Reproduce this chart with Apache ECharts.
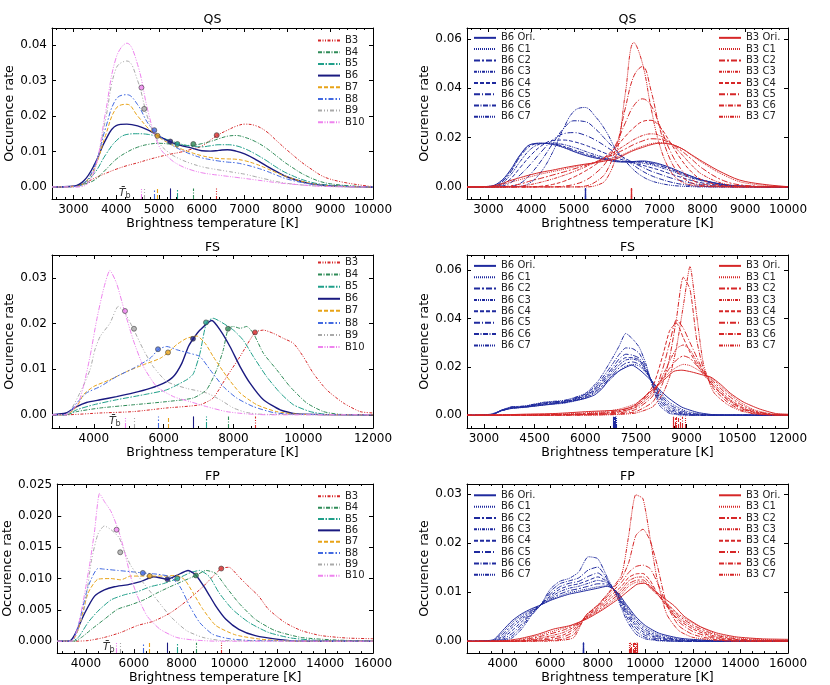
<!DOCTYPE html>
<html><head><meta charset="utf-8">
<script src="https://cdn.jsdelivr.net/npm/echarts@6/dist/echarts.min.js"></script>
<style>html,body{margin:0;padding:0;background:#fff}#c{width:830px;height:685px}</style>
</head><body><div id="c"></div>
<script>
// ===================== DATA =====================
const bands = ['B3','B4','B5','B6','B7','B8','B9','B10'];
const variantsB6 = ['B6 Ori.','B6 C1','B6 C2','B6 C3','B6 C4','B6 C5','B6 C6','B6 C7'];
const variantsB3 = ['B3 Ori.','B3 C1','B3 C2','B3 C3','B3 C4','B3 C5','B3 C6','B3 C7'];
const xName = 'Brightness temperature [K]';
const yName = 'Occurence rate';
const titles = ['QS','QS','FS','FS','FP','FP'];

// tick labels
const qsXTicks = [3000,4000,5000,6000,7000,8000,9000,10000];
const fsLXTicks = [4000,6000,8000,10000,12000];
const fsRXTicks = [3000,4500,6000,7500,9000,10500,12000];
const fpXTicks = [4000,6000,8000,10000,12000,14000,16000];
const qsLYTicks = [0,0.01,0.02,0.03,0.04];
const qsRYTicks = [0,0.02,0.04,0.06];
const fsLYTicks = [0,0.01,0.02,0.03];
const fsRYTicks = [0,0.02,0.04,0.06];
const fpLYTicks = [0,0.005,0.01,0.015,0.02,0.025];
const fpRYTicks = [0,0.01,0.02,0.03];

// ---- QS (shared temperature grid)
const qsX = [2500,3000,3250,3500,3750,4000,4250,4500,4750,5000,5250,5500,5750,6000,6200,6400,6600,6800,7000,7250,7500,7750,8000,8500,9000,10000];
const qsB3 = [0,0.0002,0.001,0.0025,0.0038,0.005,0.006,0.0068,0.0077,0.0085,0.0092,0.0098,0.0106,0.0115,0.0132,0.0148,0.016,0.0171,0.0177,0.0173,0.0157,0.013,0.0103,0.0055,0.0022,0.0001];
const qsB4 = [0,0.0001,0.0008,0.002,0.0048,0.0078,0.0098,0.0112,0.012,0.0123,0.0121,0.0118,0.0117,0.0122,0.0128,0.0136,0.0143,0.0145,0.014,0.0128,0.011,0.0087,0.0064,0.0028,0.0009,0];
const qsB5 = [0,0.0001,0.0012,0.004,0.009,0.013,0.0148,0.015,0.0148,0.0141,0.0131,0.0121,0.0115,0.0113,0.0116,0.0119,0.0119,0.0116,0.0108,0.0093,0.0075,0.0055,0.0038,0.0015,0.0005,0];
const qsB6 = [0,0.0002,0.0018,0.0065,0.0132,0.0173,0.0177,0.0172,0.016,0.0143,0.0128,0.0117,0.011,0.0102,0.0101,0.0103,0.0105,0.0101,0.0093,0.0078,0.006,0.0043,0.0028,0.001,0.0003,0];
const qsB7 = [0,0.0001,0.001,0.0055,0.0145,0.0222,0.0233,0.02,0.0165,0.014,0.0122,0.0108,0.0097,0.0088,0.0083,0.008,0.0079,0.0078,0.0074,0.0065,0.0053,0.004,0.0028,0.0011,0.0003,0];
const qsB8 = [0,0.0001,0.001,0.006,0.0165,0.0248,0.026,0.0232,0.0178,0.0145,0.0122,0.0105,0.0092,0.0082,0.0077,0.0073,0.007,0.0068,0.0063,0.0055,0.0045,0.0033,0.0022,0.0009,0.0003,0];
const qsB9 = [0,0,0.0005,0.005,0.019,0.0335,0.0355,0.030,0.019,0.0125,0.0095,0.0078,0.0066,0.0057,0.0052,0.0048,0.0044,0.004,0.0036,0.0029,0.0022,0.0015,0.001,0.0004,0.0001,0];
const qsB10 = [0,0,0.0003,0.005,0.021,0.0365,0.0405,0.0345,0.021,0.0115,0.008,0.006,0.0048,0.004,0.0036,0.0033,0.003,0.0027,0.0024,0.002,0.0016,0.0012,0.0009,0.0004,0.0001,0];
const qsTb = [6348,5802,5430,5265,4965,4890,4655,4590];
const qsTbY = [0.0146,0.0121,0.0121,0.0128,0.0144,0.016,0.022,0.028];
const qsBlueC1 = [0,0.0002,0.0015,0.006,0.013,0.0172,0.0177,0.0173,0.0162,0.0146,0.0131,0.012,0.0112,0.0104,0.0102,0.0103,0.0103,0.0098,0.009,0.0076,0.0058,0.0042,0.0028,0.001,0.0003,0];
const qsBlueC2 = [0,0.0001,0.0012,0.0055,0.0125,0.0168,0.0176,0.0175,0.0165,0.015,0.0136,0.0123,0.0114,0.0105,0.0102,0.0102,0.0101,0.0095,0.0086,0.0072,0.0055,0.004,0.0027,0.0009,0.0002,0];
const qsBlueC3 = [0,0.0001,0.0008,0.0045,0.0105,0.0155,0.0175,0.0178,0.0172,0.016,0.0145,0.013,0.0118,0.0108,0.0102,0.0099,0.0096,0.009,0.008,0.0066,0.005,0.0036,0.0024,0.0008,0.0002,0];
const qsBlueC4 = [0,0,0.0005,0.003,0.008,0.013,0.0168,0.0188,0.019,0.0183,0.017,0.0153,0.0135,0.0118,0.0106,0.0097,0.0088,0.0078,0.0068,0.0053,0.0039,0.0026,0.0016,0.0005,0.0001,0];
const qsBlueC5 = [0,0,0.0002,0.0015,0.005,0.0095,0.0145,0.019,0.0215,0.022,0.021,0.019,0.0163,0.0135,0.0115,0.0097,0.008,0.0064,0.0052,0.0037,0.0025,0.0015,0.0008,0.0002,0,0];
const qsBlueC6 = [0,0,0,0.0002,0.0015,0.0055,0.011,0.0175,0.0235,0.0268,0.0265,0.0235,0.019,0.0145,0.0113,0.0087,0.0064,0.0046,0.0033,0.002,0.0011,0.0005,0.0002,0,0,0];
const qsBlueC7 = [0,0,0,0,0.0002,0.002,0.0065,0.014,0.0235,0.0307,0.0322,0.0285,0.0225,0.0145,0.0105,0.0068,0.0042,0.0025,0.0015,0.0007,0.0003,0.0001,0,0,0,0];
const qsRedC1 = [0,0,0.0006,0.0018,0.003,0.0042,0.0053,0.0062,0.0071,0.0081,0.009,0.0099,0.011,0.0122,0.0136,0.0152,0.0165,0.0175,0.0179,0.0174,0.0157,0.0128,0.0098,0.0048,0.0016,0.0001];
const qsRedC2 = [0,0,0,0.0004,0.0012,0.0025,0.0036,0.0048,0.006,0.0073,0.0086,0.0101,0.0118,0.0137,0.0154,0.0172,0.0186,0.0195,0.0193,0.0178,0.0148,0.0112,0.0075,0.0025,0.0006,0];
const qsRedC3 = [0,0,0,0,0.0003,0.001,0.002,0.0032,0.0046,0.0062,0.008,0.01,0.0122,0.0148,0.017,0.0192,0.0208,0.0215,0.0208,0.0178,0.0135,0.0088,0.005,0.0013,0.0003,0];
const qsRedC4 = [0,0,0,0,0,0,0.0003,0.001,0.0022,0.004,0.0063,0.009,0.0125,0.0165,0.0205,0.024,0.0265,0.027,0.0245,0.018,0.0112,0.006,0.0028,0.0005,0.0001,0];
const qsRedC5 = [0,0,0,0,0,0,0,0,0.0003,0.001,0.0025,0.0055,0.01,0.018,0.026,0.033,0.0357,0.033,0.025,0.0145,0.0072,0.003,0.0012,0.0002,0,0];
const qsRedC6 = [0,0,0,0,0,0,0,0,0,0,0.0003,0.002,0.006,0.017,0.032,0.045,0.0488,0.039,0.024,0.011,0.0045,0.0016,0.0005,0.0001,0,0];
const qsRedC7 = [0,0,0,0,0,0,0,0,0,0,0,0.0005,0.003,0.014,0.038,0.0585,0.05,0.032,0.017,0.0065,0.0022,0.0007,0.0002,0,0,0];
const qsBlueTb = [5257,5257,5257,5257,5257,5257,5257,5257];
const qsRedTb = [6348,6348,6348,6348,6348,6348,6348,6348];

// ---- FS
const fsB3 = [[2800,0],[3200,0],[4180,0.0004],[5130,0.0007],[6090,0.0015],[7040,0.0022],[7420,0.0037],[7810,0.0084],[8190,0.0128],[8620,0.0181],[8860,0.0186],[9140,0.0179],[9430,0.0168],[9720,0.0157],[10000,0.0128],[10290,0.0091],[10670,0.0055],[11150,0.0026],[11630,0.0007],[12000,0.0004]];
const fsB4 = [[2800,0],[3200,0],[3510,0.0007],[4180,0.0015],[5130,0.0022],[6090,0.0029],[6850,0.0037],[7230,0.0055],[7520,0.0099],[7710,0.0143],[7850,0.0189],[8000,0.0194],[8190,0.019],[8380,0.0194],[8570,0.0179],[8860,0.0135],[9240,0.0099],[9620,0.0062],[10100,0.0026],[10580,0.0007],[11050,0.0001],[12000,0]];
const fsB5 = [[2800,0],[3200,0],[3510,0.0011],[3990,0.0022],[4650,0.0033],[5420,0.0044],[6090,0.0055],[6660,0.0077],[6850,0.009],[7040,0.0135],[7230,0.0203],[7420,0.0212],[7620,0.0205],[8000,0.0186],[8280,0.0164],[8570,0.0128],[8950,0.0084],[9340,0.0048],[9720,0.0022],[10200,0.0007],[10670,0.0001],[12000,0]];
const fsB6 = [[2800,0],[3200,0.0004],[3510,0.0018],[3790,0.0027],[4180,0.0033],[4650,0.004],[5130,0.0048],[5610,0.0058],[5990,0.0069],[6280,0.0084],[6520,0.0113],[6710,0.015],[6850,0.0167],[7040,0.0186],[7380,0.0207],[7620,0.0186],[7900,0.015],[8190,0.0106],[8480,0.0069],[8860,0.0033],[9340,0.0011],[9810,0.0002],[12000,0]];
const fsB7 = [[2800,0],[3200,0],[3510,0.0018],[3700,0.0044],[3990,0.0062],[4460,0.0077],[4940,0.0095],[5420,0.011],[5900,0.0124],[6130,0.0137],[6370,0.0154],[6660,0.0168],[6950,0.0173],[7190,0.0157],[7420,0.0128],[7810,0.0084],[8190,0.0048],[8670,0.0022],[9240,0.0007],[9910,0.0001],[12000,0]];
const fsB8 = [[2800,0],[3200,0],[3510,0.0026],[3790,0.0048],[4180,0.0062],[4650,0.0084],[5130,0.0102],[5610,0.0124],[5860,0.0144],[6090,0.015],[6370,0.0143],[6750,0.0135],[7040,0.0128],[7330,0.0099],[7710,0.0062],[8090,0.0037],[8570,0.0018],[9140,0.0005],[9720,0.0001],[12000,0]];
const fsB9 = [[2800,0],[3200,0],[3600,0.0048],[3890,0.0099],[4030,0.0143],[4180,0.0172],[4460,0.0201],[4700,0.0238],[4880,0.0225],[5130,0.0189],[5420,0.0143],[5700,0.0106],[6090,0.0073],[6660,0.0058],[7230,0.0048],[7620,0.0033],[8000,0.0015],[8380,0.0005],[8860,0.0001],[12000,0]];
const fsB10 = [[2800,0],[3200,0],[3550,0.0026],[3700,0.0062],[3890,0.0128],[4080,0.0208],[4270,0.0274],[4460,0.0317],[4650,0.0289],[4870,0.023],[5130,0.0164],[5420,0.0106],[5800,0.0062],[6280,0.004],[6750,0.0029],[7230,0.0018],[7800,0.0007],[8380,0.0002],[9000,0],[12000,0]];
const fsTb = [8618,7844,7214,6841,6125,5838,5150,4892];
const fsTbY = [0.0181,0.0189,0.0203,0.0167,0.0137,0.0144,0.0189,0.0228];
const fsBX = [2500,3200,3500,3800,4200,4800,5400,6000,6400,6800,7000,7200,7400,7600,7800,8000,8200,8500,9000,9500,10000,12000];
const fsBlueC1 = [0,0,0.0017,0.0028,0.0032,0.0042,0.005,0.007,0.0103,0.0155,0.0183,0.0203,0.021,0.0203,0.0175,0.0138,0.0098,0.0052,0.0016,0.0004,0.0001,0];
const fsBlueC2 = [0,0,0.0017,0.0029,0.0033,0.0044,0.0052,0.0073,0.0108,0.0165,0.0195,0.0215,0.022,0.021,0.0178,0.0135,0.009,0.0043,0.0011,0.0002,0,0];
const fsBlueC3 = [0,0,0.0018,0.003,0.0034,0.0046,0.0054,0.0077,0.0115,0.0175,0.0207,0.0228,0.0232,0.0222,0.0182,0.0133,0.0082,0.0034,0.0007,0.0001,0,0];
const fsBlueC4 = [0,0,0.0018,0.0031,0.0035,0.0048,0.0056,0.008,0.012,0.0185,0.0218,0.0238,0.0238,0.0228,0.0186,0.0131,0.0074,0.0026,0.0004,0,0,0];
const fsBlueC5 = [0,0,0.0019,0.0032,0.0036,0.005,0.0058,0.0083,0.0127,0.0195,0.0232,0.0252,0.0248,0.0235,0.019,0.0128,0.0064,0.0019,0.0002,0,0,0];
const fsBlueC6 = [0,0,0.0019,0.0033,0.0037,0.0052,0.006,0.0087,0.0135,0.021,0.025,0.0278,0.0275,0.0255,0.0198,0.0122,0.0052,0.0012,0.0001,0,0,0];
const fsBlueC7 = [0,0,0.002,0.0034,0.0038,0.0054,0.0062,0.009,0.0145,0.0235,0.0285,0.0338,0.0315,0.028,0.021,0.0115,0.004,0.0007,0,0,0,0];
const fsRX = [2500,4500,5500,6500,7000,7500,8000,8300,8500,8700,8900,9100,9300,9500,9800,10200,10600,11000,11500,12000];
const fsRedC1 = [0,0.0002,0.0006,0.0014,0.0025,0.0048,0.0105,0.015,0.0178,0.0198,0.021,0.0205,0.019,0.0172,0.0145,0.0095,0.0052,0.0022,0.0006,0.0001];
const fsRedC2 = [0,0.0001,0.0004,0.001,0.0019,0.004,0.0098,0.0155,0.0195,0.0228,0.0245,0.0235,0.0205,0.0175,0.0138,0.0085,0.0044,0.0018,0.0004,0.0001];
const fsRedC3 = [0,0,0.0002,0.0007,0.0014,0.0032,0.009,0.0165,0.0225,0.0275,0.029,0.027,0.0222,0.0178,0.013,0.0074,0.0036,0.0014,0.0003,0];
const fsRedC4 = [0,0,0.0002,0.0007,0.0014,0.0035,0.012,0.025,0.035,0.038,0.032,0.026,0.021,0.0168,0.012,0.0068,0.0032,0.0012,0.0003,0];
const fsRedC5 = [0,0,0.0001,0.0004,0.0009,0.0024,0.008,0.0195,0.03,0.0395,0.036,0.03,0.024,0.018,0.012,0.0064,0.0028,0.001,0.0002,0];
const fsRedC6 = [0,0,0,0.0002,0.0005,0.0015,0.0055,0.0135,0.024,0.04,0.057,0.052,0.031,0.019,0.011,0.0055,0.0022,0.0007,0.0001,0];
const fsRedC7 = [0,0,0,0.0001,0.0003,0.0009,0.0035,0.009,0.016,0.028,0.045,0.0615,0.041,0.021,0.0095,0.0045,0.0018,0.0005,0.0001,0];
const fsBlueTb = [6841,6850,6860,6870,6880,6890,6900,6910];
const fsRedTb = [8618,8606,8650,8707,8760,8805,8884,8973];

// ---- FP
const fpB3 = [[2800,0],[3500,0],[4090,0.0001],[4770,0.0006],[5460,0.0014],[6150,0.0025],[6830,0.0032],[7520,0.0045],[8200,0.0064],[8890,0.0087],[9650,0.0116],[9980,0.0118],[10390,0.0103],[10810,0.0087],[11220,0.0072],[11630,0.0051],[12310,0.003],[13000,0.0017],[13820,0.0009],[14920,0.0005],[16000,0.0004]];
const fpB4 = [[2800,0],[3500,0],[3810,0.0006],[4230,0.0019],[4770,0.0035],[5320,0.0051],[5870,0.0058],[6420,0.0066],[6970,0.0077],[7520,0.0087],[8600,0.0105],[9020,0.0113],[9430,0.0108],[9850,0.0087],[10390,0.0061],[11080,0.0035],[11900,0.0017],[13000,0.0006],[14370,0.0002],[16000,0]];
const fpB5 = [[2800,0],[3400,0],[3680,0.0006],[4090,0.003],[4500,0.0048],[5050,0.0066],[5600,0.0074],[6150,0.0079],[6690,0.0087],[7240,0.0092],[7830,0.01],[8340,0.0109],[8750,0.0113],[9160,0.0103],[9570,0.0077],[10120,0.0051],[10810,0.003],[11630,0.0014],[12590,0.0005],[13820,0.0001],[16000,0]];
const fpB6 = [[2800,0],[3300,0],[3540,0.0011],[3950,0.0045],[4360,0.0072],[4770,0.0082],[5190,0.0087],[5730,0.009],[6280,0.0095],[6830,0.0103],[7420,0.0099],[7790,0.0105],[8270,0.0113],[8610,0.0105],[9020,0.0082],[9430,0.0056],[9850,0.0035],[10390,0.0019],[11080,0.0009],[12040,0.0003],[13000,0],[16000,0]];
const fpB7 = [[2800,0],[3400,0],[3680,0.0019],[4090,0.0077],[4500,0.0099],[5050,0.01],[5460,0.0098],[5870,0.0104],[6670,0.0104],[7240,0.0104],[7790,0.0105],[8130,0.0098],[8480,0.0077],[8890,0.0051],[9430,0.0025],[10260,0.001],[11350,0.0003],[12720,0],[16000,0]];
const fpB8 = [[2800,0],[3400,0],[3680,0.0025],[4090,0.0087],[4500,0.0116],[4770,0.0115],[5320,0.0113],[5870,0.0111],[6390,0.0109],[6970,0.0107],[7520,0.0103],[7930,0.0087],[8340,0.0056],[8750,0.003],[9300,0.0011],[9980,0.0004],[10940,0.0001],[16000,0]];
const fpB9 = [[2800,0],[3400,0],[3680,0.0019],[3950,0.0056],[4230,0.0129],[4500,0.0171],[4770,0.0184],[5050,0.0178],[5390,0.0165],[5620,0.0142],[5870,0.0121],[6420,0.0092],[6970,0.0066],[7520,0.004],[8200,0.0017],[8890,0.0006],[9710,0.0001],[16000,0]];
const fpB10 = [[2800,0],[3400,0],[3680,0.0025],[3950,0.0077],[4160,0.0124],[4360,0.0176],[4570,0.0236],[4770,0.0223],[5050,0.0207],[5350,0.0178],[5600,0.0145],[5870,0.0103],[6150,0.0072],[6560,0.004],[7100,0.0019],[7790,0.0006],[8480,0.0002],[9500,0],[16000,0]];
const fpTb = [9655,8598,7817,7406,6665,6378,5432,5280];
const fpTbY = [0.0116,0.0105,0.01,0.0099,0.0104,0.0109,0.0142,0.0178];
const fpBX = [2500,3600,4000,4400,4800,5200,5600,6000,6400,6800,7200,7600,8000,8400,8800,9200,9600,10000,10600,11500,13000,16000];
const fpBlueOri = [0,0.0003,0.0022,0.0042,0.0056,0.0066,0.0074,0.0083,0.009,0.0096,0.01,0.0104,0.0108,0.0112,0.0101,0.0075,0.005,0.0032,0.0016,0.0006,0.0001,0];
const fpBlueC1 = [0,0.0002,0.0018,0.0038,0.0053,0.0064,0.0074,0.0084,0.0092,0.0099,0.0103,0.0107,0.0111,0.0113,0.01,0.0072,0.0046,0.0028,0.0013,0.0004,0.0001,0];
const fpBlueC2 = [0,0.0001,0.0014,0.0033,0.0049,0.0062,0.0074,0.0086,0.0096,0.0103,0.0107,0.0112,0.0117,0.0116,0.0099,0.0069,0.0042,0.0024,0.001,0.0003,0,0];
const fpBlueC3 = [0,0.0001,0.001,0.0028,0.0045,0.006,0.0074,0.0089,0.0101,0.0108,0.0112,0.0118,0.0124,0.0119,0.0098,0.0065,0.0037,0.002,0.0008,0.0002,0,0];
const fpBlueC4 = [0,0,0.0007,0.0022,0.004,0.0058,0.0074,0.0092,0.0106,0.0113,0.0117,0.0124,0.0131,0.0121,0.0097,0.0061,0.0032,0.0016,0.0006,0.0001,0,0];
const fpBlueC5 = [0,0,0.0004,0.0016,0.0035,0.0056,0.0074,0.0096,0.0111,0.0118,0.0122,0.0132,0.0139,0.0123,0.0096,0.0057,0.0027,0.0012,0.0004,0,0,0];
const fpBlueC6 = [0,0,0.0002,0.0011,0.003,0.0054,0.0074,0.0101,0.0117,0.0123,0.0129,0.0145,0.0151,0.0126,0.0094,0.0051,0.0021,0.0008,0.0002,0,0,0];
const fpBlueC7 = [0,0,0.0001,0.0007,0.0025,0.0052,0.0074,0.0106,0.0122,0.0128,0.0141,0.0172,0.0168,0.013,0.0091,0.0044,0.0015,0.0005,0.0001,0,0,0];
const fpRX = [2500,4500,5500,6500,7000,7500,8000,8500,9000,9300,9600,9900,10200,10500,10900,11400,12000,13000,14000,16000];
const fpRedC1 = [0,0.0002,0.0012,0.0026,0.0034,0.0046,0.006,0.0077,0.0096,0.0112,0.012,0.0121,0.0108,0.0095,0.0078,0.0055,0.0037,0.0014,0.0006,0.0002];
const fpRedC2 = [0,0.0001,0.0009,0.0022,0.0032,0.0047,0.0063,0.0081,0.0101,0.0117,0.0124,0.0125,0.0112,0.0096,0.0076,0.0052,0.0033,0.0012,0.0004,0.0001];
const fpRedC3 = [0,0,0.0006,0.0017,0.0029,0.0048,0.0066,0.0086,0.0106,0.0123,0.013,0.0131,0.0117,0.0097,0.0074,0.0048,0.0029,0.0009,0.0003,0.0001];
const fpRedC4 = [0,0,0.0004,0.0012,0.0025,0.0049,0.0069,0.0091,0.0112,0.013,0.0137,0.0138,0.0124,0.0098,0.0071,0.0044,0.0025,0.0007,0.0002,0];
const fpRedC5 = [0,0,0.0002,0.0008,0.002,0.0052,0.0072,0.0096,0.012,0.014,0.0152,0.0155,0.0148,0.012,0.0075,0.004,0.002,0.0005,0.0001,0];
const fpRedC6 = [0,0,0.0001,0.0004,0.0014,0.0052,0.0073,0.01,0.0128,0.016,0.0215,0.0228,0.0205,0.0155,0.0075,0.0032,0.0014,0.0003,0,0];
const fpRedC7 = [0,0,0,0.0002,0.0008,0.0053,0.0074,0.0102,0.0135,0.0215,0.0298,0.029,0.021,0.0125,0.0055,0.0022,0.0008,0.0002,0,0];
const fpBlueTb = [7390,7380,7385,7375,7395,7370,7400,7388];
const fpRedTb = [9649,9620,9580,9520,9480,9420,9380,9330];

// ===================== STYLE / LAYOUT =====================
const FONT = 'DejaVu Sans';
const bandColors = ['#d62728','#2e8b57','#20a08a','#1a1a80','#e8a317','#4169e1','#a9a9a9','#ee82ee'];
const bandDash = [[3,1.5,1,1.5,1,1.5],[4,1.5,1,1.5],[6,1.5,1.5,1.5],'solid',[4,2],[5,2,1.5,2],[4,2,1,2,1,2],[5,1.5,1,1.5,1,1.5]];
const varDash = ['solid',[1,1],[6,2,2,2],[3,1,1,1,1,1],[4,2],[6,2,1,2],[5,1.5,1,1.5],[4,1,1,1,1,1,1,1]];
const BLUE = '#1f2a9e', RED = '#d62728';

const grids = [
  {left:52, top:28, width:321, height:171}, {left:467, top:28, width:321, height:171},
  {left:52, top:255, width:321, height:173}, {left:467, top:255, width:321, height:173},
  {left:52, top:484, width:321, height:172}, {left:467, top:484, width:321, height:172}];
const axisCfg = [
  {xmin:2500,xmax:10000,xt:qsXTicks,ymin:-0.0034,ymax:0.0448,yt:qsLYTicks,dec:2},
  {xmin:2500,xmax:10000,xt:qsXTicks,ymin:-0.0049,ymax:0.0644,yt:qsRYTicks,dec:2},
  {xmin:2800,xmax:12000,xt:fsLXTicks,ymin:-0.0029,ymax:0.0351,yt:fsLYTicks,dec:2},
  {xmin:2500,xmax:12000,xt:fsRXTicks,ymin:-0.0053,ymax:0.0662,yt:fsRYTicks,dec:2},
  {xmin:2800,xmax:16000,xt:fpXTicks,ymin:-0.0019,ymax:0.0251,yt:fpLYTicks,dec:3},
  {xmin:2500,xmax:16000,xt:fpXTicks,ymin:-0.0024,ymax:0.032,yt:fpRYTicks,dec:2}];

const zip = (xs, ys) => xs.map((x, i) => [x, ys[i]]);
// minor tick positions between the major ticks (matplotlib-like auto minor)
function minorTicks(a) {
  const step = a.xt[1] - a.xt[0];
  const m = step / 1000;
  const nd = ([1, 2.5, 5, 10].some(v => Math.abs(v - m) < 1e-9)) ? 5 : 4;
  const ms = step / nd, out = [];
  for (let v = a.xt[0] - step; v <= a.xmax + 1e-6; v += ms) {
    if (v >= a.xmin - 1e-6 && !a.xt.some(t => Math.abs(t - v) < 1e-6)) out.push(v);
  }
  return out;
}

const leftPanels = [
  {k:0, curves:[qsB3,qsB4,qsB5,qsB6,qsB7,qsB8,qsB9,qsB10].map(y => zip(qsX, y)), tb:qsTb, tbY:qsTbY, lblX:4200, smooth:0.4},
  {k:2, curves:[fsB3,fsB4,fsB5,fsB6,fsB7,fsB8,fsB9,fsB10], tb:fsTb, tbY:fsTbY, lblX:4600, smooth:0.2},
  {k:4, curves:[fpB3,fpB4,fpB5,fpB6,fpB7,fpB8,fpB9,fpB10], tb:fpTb, tbY:fpTbY, lblX:4950, smooth:0.2}];
const rightPanels = [
  {k:1, blue:[zip(qsX,qsB6)].concat([qsBlueC1,qsBlueC2,qsBlueC3,qsBlueC4,qsBlueC5,qsBlueC6,qsBlueC7].map(y=>zip(qsX,y))),
        red:[zip(qsX,qsB3)].concat([qsRedC1,qsRedC2,qsRedC3,qsRedC4,qsRedC5,qsRedC6,qsRedC7].map(y=>zip(qsX,y))),
        btb:qsBlueTb, rtb:qsRedTb, smooth:0.4},
  {k:3, blue:[fsB6].concat([fsBlueC1,fsBlueC2,fsBlueC3,fsBlueC4,fsBlueC5,fsBlueC6,fsBlueC7].map(y=>zip(fsBX,y))),
        red:[fsB3].concat([fsRedC1,fsRedC2,fsRedC3,fsRedC4,fsRedC5,fsRedC6,fsRedC7].map(y=>zip(fsRX,y))),
        btb:fsBlueTb, rtb:fsRedTb, smooth:0.2},
  {k:5, blue:[fpBlueOri,fpBlueC1,fpBlueC2,fpBlueC3,fpBlueC4,fpBlueC5,fpBlueC6,fpBlueC7].map(y=>zip(fpBX,y)),
        red:[fpB3].concat([fpRedC1,fpRedC2,fpRedC3,fpRedC4,fpRedC5,fpRedC6,fpRedC7].map(y=>zip(fpRX,y))),
        btb:fpBlueTb, rtb:fpRedTb, smooth:0.2}];

// ---------- axes
const xAxes = [], yAxes = [];
axisCfg.forEach((a, k) => {
  const line = {show:true, onZero:false, lineStyle:{color:'#000', width:1}};
  const tickX = {show:true, inside:true, length:4, customValues:a.xt, lineStyle:{color:'#000'}};
  const tickY = {show:true, inside:true, length:4, customValues:a.yt, lineStyle:{color:'#000'}};
  xAxes.push({gridIndex:k, type:'value', min:a.xmin, max:a.xmax, position:'bottom', axisLine:line, axisTick:tickX,
    axisLabel:{customValues:a.xt, color:'#000', fontSize:12, fontFamily:FONT, margin:5, formatter:v => String(v)},
    splitLine:{show:false}, name:xName, nameLocation:'middle', nameGap:17,
    nameTextStyle:{color:'#000', fontSize:12.6, fontFamily:FONT}});
  xAxes.push({gridIndex:k, type:'value', min:a.xmin, max:a.xmax, position:'top', axisLine:line, axisTick:tickX,
    axisLabel:{show:false}, splitLine:{show:false}});
  yAxes.push({gridIndex:k, type:'value', min:a.ymin, max:a.ymax, position:'left', axisLine:line, axisTick:tickY,
    axisLabel:{customValues:a.yt, color:'#000', fontSize:12, fontFamily:FONT, margin:5, formatter:v => v.toFixed(a.dec)},
    splitLine:{show:false}, name:yName, nameLocation:'middle', nameGap:(k%2===0 ? 35 : 34),
    nameTextStyle:{color:'#000', fontSize:12.6, fontFamily:FONT}});
  yAxes.push({gridIndex:k, type:'value', min:a.ymin, max:a.ymax, position:'right', axisLine:line, axisTick:tickY,
    axisLabel:{show:false}, splitLine:{show:false}});
});
// minor x ticks (bottom and top), extra axes appended after the main ones
axisCfg.forEach((a, k) => {
  const mt = minorTicks(a);
  ['bottom','top'].forEach(pos => {
    xAxes.push({gridIndex:k, type:'value', min:a.xmin, max:a.xmax, position:pos,
      axisLine:{show:false, onZero:false}, axisLabel:{show:false}, splitLine:{show:false},
      axisTick:{show:true, inside:true, length:2, customValues:mt, lineStyle:{color:'#000'}}});
  });
});

// ---------- series
const series = [];
function tbLine(k, x, color, dash) {
  const a = axisCfg[k];
  return {symbol:['none','none'], silent:true, animation:false, label:{show:false},
    lineStyle:{color:color, type:dash, width:1.1},
    data:[[{coord:[x, a.ymin]}, {coord:[x, a.ymin*0.12]}]]};
}
leftPanels.forEach(p => {
  const k = p.k;
  p.curves.forEach((c, i) => {
    series.push({type:'line', name:bands[i], xAxisIndex:2*k, yAxisIndex:2*k, data:c, smooth:p.smooth,
      symbol:'none', showSymbol:false,
      lineStyle:{color:bandColors[i], width:(i===3?1.4:1), type:bandDash[i]}, itemStyle:{color:bandColors[i]},
      markLine:tbLine(k, p.tb[i], bandColors[i], bandDash[i])});
  });
  series.push({type:'scatter', xAxisIndex:2*k, yAxisIndex:2*k, symbolSize:5, z:5,
    data:p.tb.map((t, i) => ({value:[t, p.tbY[i]], itemStyle:{color:bandColors[i], borderColor:'#444', borderWidth:0.8}}))});
  series.push({type:'scatter', xAxisIndex:2*k, yAxisIndex:2*k, symbolSize:0, silent:true,
    data:[[p.lblX, axisCfg[k].ymin*0.5]],
    label:{show:true, position:'inside', formatter:'{t|T\u0304}{s|b}',
      rich:{t:{fontSize:11, fontStyle:'italic', fontFamily:FONT, color:'#000'},
            s:{fontSize:8, fontFamily:FONT, color:'#000', padding:[5,0,0,0]}}}});
});
rightPanels.forEach(p => {
  const k = p.k;
  p.blue.forEach((c, i) => {
    series.push({type:'line', name:variantsB6[i], xAxisIndex:2*k, yAxisIndex:2*k, data:c, smooth:p.smooth,
      symbol:'none', showSymbol:false, lineStyle:{color:BLUE, width:1, type:varDash[i]}, itemStyle:{color:BLUE},
      markLine:tbLine(k, p.btb[i], BLUE, varDash[i])});
  });
  p.red.forEach((c, i) => {
    series.push({type:'line', name:variantsB3[i], xAxisIndex:2*k, yAxisIndex:2*k, data:c, smooth:p.smooth,
      symbol:'none', showSymbol:false, lineStyle:{color:RED, width:1, type:varDash[i]}, itemStyle:{color:RED},
      markLine:tbLine(k, p.rtb[i], RED, varDash[i])});
  });
});

// ---------- legends
const legBase = {orient:'vertical', padding:0, itemGap:0, itemWidth:22,
  itemStyle:{opacity:0}, textStyle:{fontSize:10, fontFamily:FONT, color:'#222'}, selectedMode:false};
const legends = [
  Object.assign({}, legBase, {data:bands, left:317, top:34.7, itemHeight:14.6}),
  Object.assign({}, legBase, {data:bands, left:317, top:256.5, itemHeight:15.1}),
  Object.assign({}, legBase, {data:bands, left:317, top:490.6, itemHeight:14.2}),
  Object.assign({}, legBase, {data:variantsB6, left:473, top:32.2, itemHeight:14.1}),
  Object.assign({}, legBase, {data:variantsB3, left:718, top:32.2, itemHeight:14.1}),
  Object.assign({}, legBase, {data:variantsB6, left:473, top:260.2, itemHeight:14.2}),
  Object.assign({}, legBase, {data:variantsB3, left:718, top:260.2, itemHeight:14.2}),
  Object.assign({}, legBase, {data:variantsB6, left:473, top:489.6, itemHeight:14.2}),
  Object.assign({}, legBase, {data:variantsB3, left:718, top:489.6, itemHeight:14.2})];

// ---------- titles
const titleY = [20, 20, 247.7, 247.7, 476.7, 476.7];
const graphic = grids.map((g, k) => ({type:'text', x:g.left + g.width/2, y:titleY[k],
  style:{text:titles[k], fill:'#000', font:'12.6px "DejaVu Sans"', textAlign:'center', textVerticalAlign:'middle'}}));

const chart = echarts.init(document.getElementById('c'), null, {renderer:'canvas'});
chart.setOption({
  animation:false, backgroundColor:'#fff',
  grid:grids, xAxis:xAxes, yAxis:yAxes, series:series, legend:legends, graphic:graphic
});
</script></body></html>
